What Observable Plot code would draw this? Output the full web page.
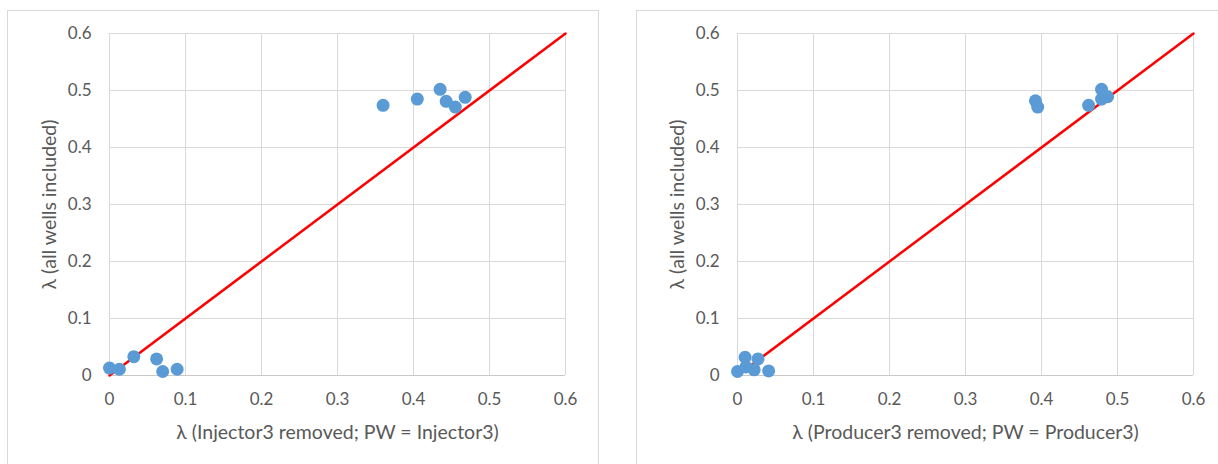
<!DOCTYPE html>
<html>
<head>
<meta charset="utf-8">
<script src="https://cdn.jsdelivr.net/npm/d3@7"></script>
<script src="https://cdn.jsdelivr.net/npm/@observablehq/plot@0.6"></script>
<style>
  html, body { margin: 0; padding: 0; background: #fff; }
  body { width: 1218px; height: 464px; position: relative; overflow: hidden; }
  .frame { position: absolute; border: 1px solid #d9d9d9; background: #fff; }
  .panel { position: absolute; top: 0; width: 605px; }
  .panel svg { max-width: none !important; }
  svg { font-family: Lato, "Open Sans", sans-serif; }
</style>
</head>
<body>
<div class="frame" style="left:7px; top:10px; width:590px; height:470px;"></div>
<div class="frame" style="left:636px; top:10px; width:600px; height:470px;"></div>
<div id="left" class="panel" style="left:0px;"></div>
<div id="right" class="panel" style="left:628px;"></div>
<script>
// ---- data ----
const ticks = [0, 0.1, 0.2, 0.3, 0.4, 0.5, 0.6];
const tickLabels = ["0", "0.1", "0.2", "0.3", "0.4", "0.5", "0.6"];

const leftX = [0.000, 0.013, 0.032, 0.062, 0.070, 0.089, 0.360, 0.405, 0.435, 0.443, 0.455, 0.468];
const leftY = [0.013, 0.011, 0.033, 0.029, 0.007, 0.011, 0.474, 0.485, 0.502, 0.481, 0.471, 0.488];

const rightX = [0.000, 0.010, 0.011, 0.022, 0.027, 0.041, 0.392, 0.395, 0.462, 0.479, 0.479, 0.487];
const rightY = [0.007, 0.032, 0.015, 0.010, 0.029, 0.008, 0.482, 0.471, 0.474, 0.502, 0.485, 0.489];

const lineX = [0, 0.6];
const lineY = [0, 0.6];

const leftXLabel = "λ (Injector3 removed; PW = Injector3)";
const rightXLabel = "λ (Producer3 removed; PW = Producer3)";
const yLabel = "λ (all wells included)";

function makeChart(xs, ys, xLabel) {
  const pts = xs.map((x, i) => ({x, y: ys[i]}));
  const diag = lineX.map((x, i) => ({x, y: lineY[i]}));
  const fmt = d => tickLabels[ticks.indexOf(d)] ?? String(d);
  return Plot.plot({
    width: 605,
    height: 464,
    marginLeft: 109,
    marginRight: 40,
    marginTop: 33,
    marginBottom: 89,
    style: { fontSize: "17px", color: "#595959", background: "transparent", overflow: "visible", maxWidth: "none" },
    x: { domain: [0, 0.6] },
    y: { domain: [0, 0.6] },
    marks: [
      Plot.gridX(ticks, { stroke: "#d9d9d9", strokeOpacity: 1 }),
      Plot.gridY(ticks, { stroke: "#d9d9d9", strokeOpacity: 1 }),
      Plot.ruleY([0], { stroke: "#c8c8c8" }),
      Plot.axisX(ticks, { tickSize: 0, tickPadding: 17, tickFormat: fmt, fill: "#595959", label: null }),
      Plot.axisY(ticks, { tickSize: 0, tickPadding: 18, tickFormat: fmt, fill: "#595959", label: null }),
      Plot.text([xLabel], { frameAnchor: "bottom", dy: 57, lineAnchor: "middle", textAnchor: "middle", fontSize: 19.5, fill: "#595959" }),
      Plot.text([yLabel], { frameAnchor: "left", rotate: -90, dx: -60, lineAnchor: "middle", textAnchor: "middle", fontSize: 19.5, fill: "#595959" }),
      Plot.line(diag, { x: "x", y: "y", stroke: "#ff0000", strokeWidth: 2.5 }),
      Plot.dot(pts, { x: "x", y: "y", r: 6.5, fill: "#5b9bd5", stroke: "none" })
    ]
  });
}

document.getElementById("left").appendChild(makeChart(leftX, leftY, leftXLabel));
document.getElementById("right").appendChild(makeChart(rightX, rightY, rightXLabel));
</script>
</body>
</html>
